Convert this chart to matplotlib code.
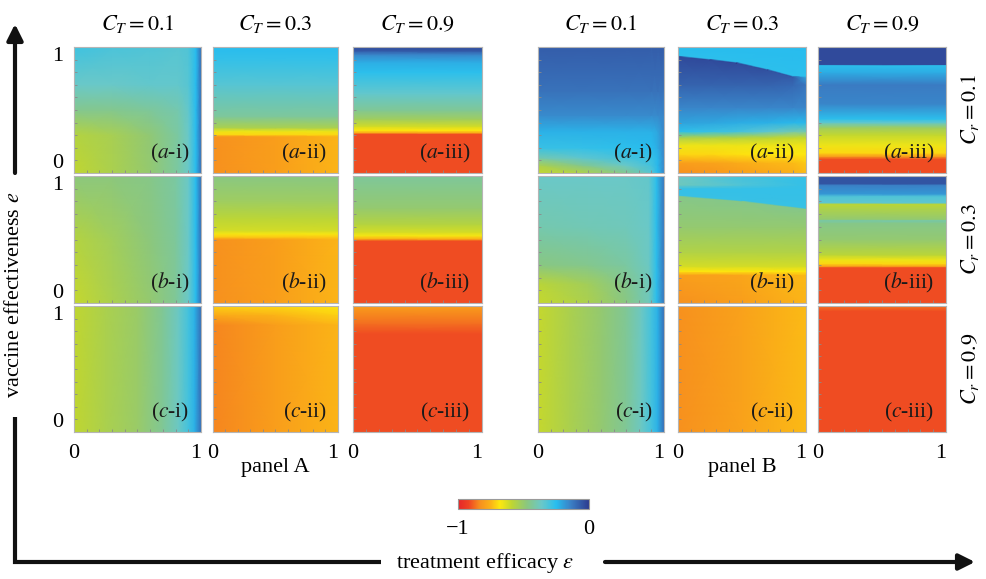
import numpy as np
import matplotlib
matplotlib.use('Agg')
import matplotlib.pyplot as plt
from matplotlib.colors import LinearSegmentedColormap, Normalize
from matplotlib.cm import ScalarMappable

plt.rcParams['font.family'] = ['Liberation Serif', 'DejaVu Serif']
plt.rcParams['mathtext.fontset'] = 'stix'

# ---------------- colormap ----------------
CMAP_POS = [0.00, 0.08, 0.17, 0.25, 0.32, 0.41, 0.52, 0.64, 0.75, 0.86, 1.00]
CMAP_COLORS = ['#e52629', '#ee4323', '#f7921e', '#fbb317', '#fde80f', '#bed632',
               '#8cc77c', '#6ac8c8', '#27beef', '#3b80c6', '#2d3d90']
CBAR_TICKS = [-1, 0]
CBAR_LABELS = ['\u22121', '0']

COL_TITLES = [r'$C_T = 0.1$', r'$C_T = 0.3$', r'$C_T = 0.9$']
ROW_TITLES = [r'$C_r = 0.1$', r'$C_r = 0.3$', r'$C_r = 0.9$']
ROW_TAGS = ['a', 'b', 'c']
COL_TAGS = ['i', 'ii', 'iii']
GROUP_NAMES = ['panel A', 'panel B']

# ---------------- panel A ----------------
A_ai_eps = [0, 0.3, 0.6, 0.82, 0.9, 0.96, 1.0]
A_ai_e = [0, 0.3, 0.5, 0.7, 1.0]
A_ai_Z = [[-0.59, -0.55, -0.50, -0.42, -0.36, -0.25, -0.10],
          [-0.57, -0.54, -0.49, -0.42, -0.36, -0.25, -0.10],
          [-0.45, -0.45, -0.43, -0.40, -0.35, -0.25, -0.10],
          [-0.36, -0.36, -0.35, -0.35, -0.33, -0.25, -0.10],
          [-0.29, -0.31, -0.32, -0.33, -0.32, -0.25, -0.10]]

A_aii_eps = [0, 0.5, 1.0]
A_aii_e = [0, 0.29, 0.305, 0.33, 0.36, 0.45, 0.7, 0.9, 1.0]
A_aii_Z = [[-0.83, -0.80, -0.75],
           [-0.83, -0.80, -0.75],
           [-0.70, -0.70, -0.70],
           [-0.66, -0.66, -0.66],
           [-0.55, -0.55, -0.55],
           [-0.43, -0.43, -0.43],
           [-0.33, -0.33, -0.33],
           [-0.27, -0.27, -0.27],
           [-0.25, -0.25, -0.25]]

A_aiii_eps = [0, 1.0]
A_aiii_e = [0, 0.31, 0.32, 0.34, 0.37, 0.43, 0.5, 0.63, 0.8, 0.88, 0.94, 0.97, 1.0]
A_aiii_Z = [-0.91, -0.91, -0.78, -0.68, -0.62, -0.52, -0.44, -0.35, -0.26, -0.22, -0.15, -0.06, -0.03]

A_bi_eps = [0, 0.3, 0.6, 0.8, 0.9, 0.96, 1.0]
A_bi_e = [0, 0.5, 1.0]
A_bi_Z = [[-0.60, -0.55, -0.50, -0.44, -0.36, -0.25, -0.10],
          [-0.57, -0.53, -0.48, -0.43, -0.36, -0.25, -0.10],
          [-0.48, -0.48, -0.46, -0.42, -0.36, -0.25, -0.10]]

A_bii_eps = [0, 0.5, 1.0]
A_bii_e = [0, 0.50, 0.52, 0.545, 0.57, 0.67, 0.8, 1.0]
A_bii_Z = [[-0.83, -0.80, -0.75],
           [-0.83, -0.80, -0.75],
           [-0.72, -0.72, -0.72],
           [-0.67, -0.67, -0.67],
           [-0.62, -0.62, -0.62],
           [-0.58, -0.58, -0.58],
           [-0.52, -0.52, -0.52],
           [-0.47, -0.47, -0.47]]

A_biii_eps = [0, 1.0]
A_biii_e = [0, 0.49, 0.505, 0.53, 0.56, 0.62, 0.75, 1.0]
A_biii_Z = [-0.91, -0.91, -0.76, -0.67, -0.62, -0.57, -0.50, -0.43]

A_ci_eps = [0, 0.25, 0.5, 0.7, 0.82, 0.9, 0.95, 1.0]
A_ci_e = [0, 1.0]
A_ci_Z = [[-0.59, -0.55, -0.51, -0.44, -0.37, -0.30, -0.23, -0.10],
          [-0.59, -0.55, -0.51, -0.44, -0.37, -0.30, -0.23, -0.10]]

A_cii_eps = [0, 0.5, 1.0]
A_cii_e = [0, 0.85, 0.93, 1.0]
A_cii_Z = [[-0.84, -0.80, -0.75],
           [-0.84, -0.80, -0.75],
           [-0.77, -0.75, -0.71],
           [-0.71, -0.70, -0.68]]

A_ciii_eps = [0, 1.0]
A_ciii_e = [0, 0.78, 0.86, 1.0]
A_ciii_Z = [-0.91, -0.91, -0.87, -0.80]

# ---------------- panel B ----------------
B_ai_eps = [0, 0.35, 0.7, 0.9, 0.95, 1.0]
B_ai_e = [0, 0.06, 0.12, 0.2, 0.33, 0.46, 0.65, 1.0]
B_ai_Z = [[-0.60, -0.56, -0.45, -0.33, -0.25, -0.15],
          [-0.55, -0.45, -0.36, -0.30, -0.24, -0.15],
          [-0.40, -0.34, -0.30, -0.28, -0.24, -0.15],
          [-0.28, -0.27, -0.26, -0.25, -0.22, -0.15],
          [-0.23, -0.23, -0.23, -0.23, -0.21, -0.15],
          [-0.16, -0.16, -0.16, -0.16, -0.16, -0.15],
          [-0.11, -0.11, -0.11, -0.11, -0.11, -0.11],
          [-0.07, -0.07, -0.07, -0.07, -0.07, -0.07]]

B_aii_eps = [0, 0.25, 0.46, 0.7, 0.9, 1.0]
B_aii_e = [[0, 0, 0, 0, 0, 0],
           [0.08, 0.08, 0.08, 0.08, 0.08, 0.08],
           [0.15, 0.15, 0.15, 0.15, 0.15, 0.15],
           [0.22, 0.22, 0.22, 0.22, 0.22, 0.22],
           [0.28, 0.28, 0.28, 0.28, 0.28, 0.28],
           [0.33, 0.33, 0.33, 0.33, 0.33, 0.33],
           [0.40, 0.40, 0.40, 0.40, 0.40, 0.40],
           [0.52, 0.52, 0.52, 0.52, 0.52, 0.52],
           [0.70, 0.70, 0.70, 0.70, 0.70, 0.70],
           [0.925, 0.90, 0.875, 0.82, 0.765, 0.76],
           [0.935, 0.91, 0.885, 0.83, 0.775, 0.77],
           [1.0, 1.0, 1.0, 1.0, 1.0, 1.0]]
B_aii_Z = [[-0.83, -0.82, -0.80, -0.78, -0.76, -0.74],
           [-0.80, -0.79, -0.77, -0.75, -0.74, -0.72],
           [-0.70, -0.70, -0.69, -0.68, -0.68, -0.68],
           [-0.66, -0.66, -0.66, -0.66, -0.66, -0.66],
           [-0.55, -0.56, -0.57, -0.58, -0.60, -0.60],
           [-0.26, -0.28, -0.30, -0.34, -0.40, -0.40],
           [-0.20, -0.21, -0.22, -0.23, -0.24, -0.24],
           [-0.15, -0.15, -0.15, -0.15, -0.15, -0.15],
           [-0.08, -0.08, -0.08, -0.08, -0.09, -0.12],
           [-0.03, -0.03, -0.03, -0.04, -0.06, -0.20],
           [-0.26, -0.26, -0.26, -0.26, -0.26, -0.26],
           [-0.25, -0.25, -0.25, -0.25, -0.25, -0.25]]

B_aiii_eps = [0, 1.0]
B_aiii_e = [0, 0.11, 0.13, 0.16, 0.22, 0.30, 0.36, 0.40, 0.43, 0.55, 0.70, 0.80, 0.855, 0.862, 1.0]
B_aiii_Z = [-0.91, -0.91, -0.82, -0.70, -0.66, -0.60, -0.52, -0.35, -0.26, -0.15, -0.13, -0.22, -0.26, -0.03, -0.03]

B_bi_eps = [0, 0.4, 0.7, 0.88, 0.94, 1.0]
B_bi_e = [0, 0.15, 0.3, 0.6, 1.0]
B_bi_Z = [[-0.60, -0.55, -0.47, -0.38, -0.26, -0.12],
          [-0.58, -0.53, -0.45, -0.38, -0.26, -0.12],
          [-0.47, -0.45, -0.42, -0.37, -0.26, -0.12],
          [-0.40, -0.39, -0.38, -0.36, -0.26, -0.12],
          [-0.36, -0.36, -0.36, -0.35, -0.26, -0.12]]

B_bii_eps = [0, 0.5, 1.0]
B_bii_e = [[0, 0, 0],
           [0.22, 0.22, 0.22],
           [0.25, 0.25, 0.25],
           [0.29, 0.29, 0.29],
           [0.40, 0.40, 0.40],
           [0.60, 0.60, 0.60],
           [0.84, 0.80, 0.74],
           [0.85, 0.81, 0.75],
           [0.90, 0.90, 0.90],
           [0.93, 0.93, 0.93],
           [1.0, 1.0, 1.0]]
B_bii_Z = [[-0.83, -0.80, -0.75],
           [-0.80, -0.78, -0.74],
           [-0.68, -0.68, -0.68],
           [-0.62, -0.62, -0.62],
           [-0.56, -0.56, -0.56],
           [-0.50, -0.50, -0.50],
           [-0.46, -0.46, -0.46],
           [-0.28, -0.28, -0.28],
           [-0.27, -0.27, -0.27],
           [-0.38, -0.32, -0.27],
           [-0.36, -0.30, -0.27]]

B_biii_eps = [0, 1.0]
B_biii_e = [0, 0.28, 0.29, 0.31, 0.34, 0.38, 0.50, 0.63, 0.65, 0.66, 0.76, 0.78, 0.79, 0.84, 0.86, 0.93, 0.94, 1.0]
B_biii_Z = [-0.91, -0.91, -0.80, -0.70, -0.66, -0.58, -0.50, -0.46, -0.40, -0.50, -0.57, -0.58, -0.34, -0.32, -0.18, -0.14, -0.05, -0.05]

B_ci_eps = [0, 0.25, 0.5, 0.7, 0.82, 0.9, 0.95, 1.0]
B_ci_e = [0, 1.0]
B_ci_Z = [[-0.60, -0.55, -0.50, -0.44, -0.37, -0.30, -0.23, -0.10],
          [-0.60, -0.55, -0.50, -0.44, -0.37, -0.30, -0.23, -0.10]]

B_cii_eps = [0, 0.5, 1.0]
B_cii_e = [0, 1.0]
B_cii_Z = [[-0.83, -0.79, -0.74],
           [-0.83, -0.79, -0.74]]

B_ciii_eps = [0, 1.0]
B_ciii_e = [0, 0.96, 1.0]
B_ciii_Z = [-0.91, -0.91, -0.86]

PANELS = [
    [[(A_ai_eps, A_ai_e, A_ai_Z), (A_aii_eps, A_aii_e, A_aii_Z), (A_aiii_eps, A_aiii_e, A_aiii_Z)],
     [(A_bi_eps, A_bi_e, A_bi_Z), (A_bii_eps, A_bii_e, A_bii_Z), (A_biii_eps, A_biii_e, A_biii_Z)],
     [(A_ci_eps, A_ci_e, A_ci_Z), (A_cii_eps, A_cii_e, A_cii_Z), (A_ciii_eps, A_ciii_e, A_ciii_Z)]],
    [[(B_ai_eps, B_ai_e, B_ai_Z), (B_aii_eps, B_aii_e, B_aii_Z), (B_aiii_eps, B_aiii_e, B_aiii_Z)],
     [(B_bi_eps, B_bi_e, B_bi_Z), (B_bii_eps, B_bii_e, B_bii_Z), (B_biii_eps, B_biii_e, B_biii_Z)],
     [(B_ci_eps, B_ci_e, B_ci_Z), (B_cii_eps, B_cii_e, B_cii_Z), (B_ciii_eps, B_ciii_e, B_ciii_Z)]],
]

# ---------------- layout (pixels) ----------------
W, H = 987, 579
COLS_X = [[(74, 201), (213, 338), (353, 482)],
          [(538, 664), (678, 806), (818, 946)]]
ROWS_Y = [(47, 173), (176, 303), (306, 432)]

cmap = LinearSegmentedColormap.from_list('rj', list(zip(CMAP_POS, CMAP_COLORS)))
norm = Normalize(-1, 0)

fig = plt.figure(figsize=(W / 100, H / 100), dpi=100)


def px_axes(x0, x1, y0, y1, **kw):
    return fig.add_axes([x0 / W, 1 - y1 / H, (x1 - x0) / W, (y1 - y0) / H], **kw)


def draw(ax, eps, e, Z):
    Z = np.asarray(Z, float)
    eps = np.asarray(eps, float)
    if Z.ndim == 1:
        Z = np.tile(Z[:, None], (1, len(eps)))
    e = np.asarray(e, float)
    if e.ndim == 2:
        Y = e
        X = np.broadcast_to(eps, Y.shape)
    else:
        X, Y = np.meshgrid(eps, e)
    ax.pcolormesh(X, Y, Z, shading='gouraud', cmap=cmap, norm=norm)


FS = 16
for g in range(2):
    for r in range(3):
        for c in range(3):
            x0, x1 = COLS_X[g][c]
            y0, y1 = ROWS_Y[r]
            ax = px_axes(x0, x1, y0, y1)
            eps, e, Z = PANELS[g][r][c]
            draw(ax, eps, e, Z)
            ax.set_xlim(0, 1)
            ax.set_ylim(0, 1)
            for sp in ax.spines.values():
                sp.set_edgecolor('#b5b5b5')
                sp.set_linewidth(0.8)
            ax.tick_params(which='major', length=0, labelsize=FS)
            if r == 2:
                ax.set_xticks([0, 1])
                ax.set_xticklabels(['0', '1'])
                ax.tick_params(axis='x', which='major', pad=9)
                ax.get_xticklabels()[1].set_ha('right')
            else:
                ax.set_xticks([])
            if g == 0 and c == 0:
                ax.set_yticks([0, 1])
                ax.set_yticklabels(['0', '1'])
                ax.tick_params(axis='y', which='major', pad=8)
                labs = ax.get_yticklabels()
                labs[0].set_va('bottom')
                labs[1].set_va('top')
            else:
                ax.set_yticks([])
            ax.set_xticks(np.arange(1, 10) / 10, minor=True)
            ax.set_yticks(np.arange(1, 10) / 10, minor=True)
            ax.tick_params(which='minor', direction='in', length=2.5, width=0.6, color='#8a8a8a')
            ax.text(0.91, 0.06, '($%s$-%s)' % (ROW_TAGS[r], COL_TAGS[c]), transform=ax.transAxes,
                    ha='right', va='bottom', fontsize=15.5, color='#1a1a1a')
            if r == 0:
                ax.set_title(COL_TITLES[c], fontsize=FS, pad=12)
            if r == 2 and c == 1:
                ax.text(0.5, -0.285, GROUP_NAMES[g], transform=ax.transAxes,
                        ha='center', va='center', fontsize=FS)
            if g == 1 and c == 2:
                ax.text(1.19, 0.5, ROW_TITLES[r], transform=ax.transAxes, rotation=90,
                        ha='center', va='center', fontsize=FS)

# colour bar
cax = px_axes(458, 589, 499, 509)
cb = fig.colorbar(ScalarMappable(norm=norm, cmap=cmap), cax=cax, orientation='horizontal')
cb.set_ticks(CBAR_TICKS)
cb.set_ticklabels(CBAR_LABELS)
cax.tick_params(length=0, pad=8, labelsize=FS)
cb.outline.set_edgecolor('#9a9a9a')
cb.outline.set_linewidth(0.8)

# overlay for the axis arrows
ov = fig.add_axes([0, 0, 1, 1], facecolor='none')
ov.set_xlim(0, W)
ov.set_ylim(H, 0)
ov.axis('off')
AW = dict(arrowstyle='-|>', lw=3.0, color='#111111', mutation_scale=24, shrinkA=0, shrinkB=0)
ov.annotate('', xy=(15, 24), xytext=(15, 173), arrowprops=AW)
ov.plot([15, 15, 381], [417, 562, 562], lw=3.0, color='#111111', solid_joinstyle='miter',
        solid_capstyle='butt')
ov.annotate('', xy=(975, 562), xytext=(605, 562), arrowprops=AW)
ov.text(15, 295, r'vaccine effectiveness $e$', rotation=90, ha='center', va='center', fontsize=FS)
ov.text(485, 563, r'treatment efficacy $\varepsilon$', ha='center', va='center', fontsize=FS)

fig.savefig('out.png', dpi=100)
